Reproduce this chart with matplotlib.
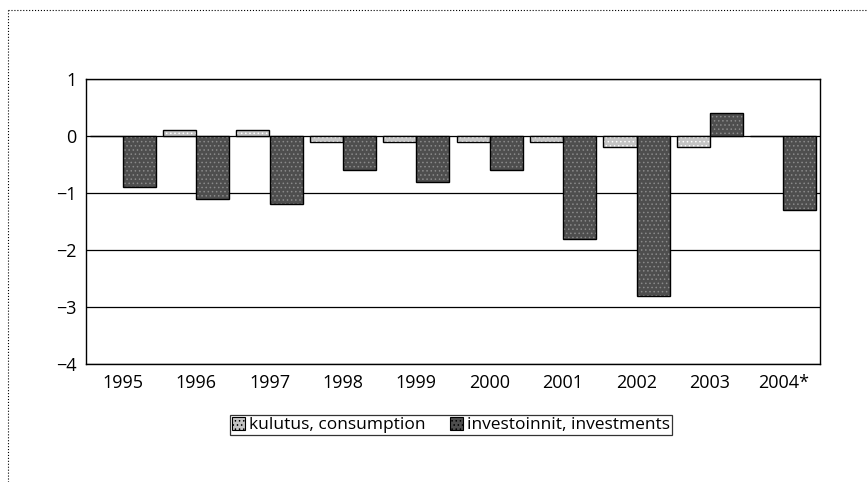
import matplotlib
matplotlib.use("Agg")
import matplotlib.pyplot as plt
import numpy as np
from matplotlib.lines import Line2D
from matplotlib.patches import Patch

years = ["1995", "1996", "1997", "1998", "1999", "2000", "2001", "2002", "2003", "2004*"]
consumption = [0.0, 0.1, 0.1, -0.1, -0.1, -0.1, -0.1, -0.2, -0.2, 0.0]
investments = [-0.9, -1.1, -1.2, -0.6, -0.8, -0.6, -1.8, -2.8, 0.4, -1.3]
labels = ["kulutus, consumption", "investoinnit, investments"]

plt.rcParams['font.family'] = ['Open Sans', 'DejaVu Sans']
plt.rcParams['hatch.linewidth'] = 0.6

fig = plt.figure(figsize=(8.68, 4.82), dpi=100)
ax = fig.add_axes([86/868, 1-364/482, (820-86)/868, (364-79)/482])

x = np.arange(len(years))
w = 0.45
c_col = "#c4c4c4"
i_col = "#4e4e4e"

# fills with dotted texture
ax.bar(x - w/2, consumption, w, color=c_col, hatch="....", edgecolor="white", linewidth=0, zorder=3)
ax.bar(x + w/2, investments, w, color=i_col, hatch="....", edgecolor="#8a8a8a", linewidth=0, zorder=3)
# outlines
ax.bar(x - w/2, consumption, w, facecolor="none", edgecolor="black", linewidth=1.0, zorder=4)
ax.bar(x + w/2, investments, w, facecolor="none", edgecolor="black", linewidth=1.0, zorder=4)

ax.set_xlim(-0.5, len(years) - 0.5)
ax.set_ylim(-4, 1)
ax.set_yticks([1, 0, -1, -2, -3, -4])
ax.set_yticklabels(["1", "0", "\u22121", "\u22122", "\u22123", "\u22124"])
ax.set_xticks(x)
ax.set_xticklabels(years)
ax.tick_params(axis="both", length=0, labelsize=13, colors="black")
ax.tick_params(axis="y", pad=7)
ax.tick_params(axis="x", pad=7)
ax.yaxis.grid(True, color="black", linewidth=0.9, zorder=1)
ax.set_axisbelow(True)
for s in ax.spines.values():
    s.set_linewidth(1.0)
    s.set_color("black")

handles = [Patch(facecolor=c_col, hatch="....", edgecolor="black", linewidth=0.8),
           Patch(facecolor=i_col, hatch="....", edgecolor="black", linewidth=0.8)]
leg = fig.legend(handles, labels, loc="center", bbox_to_anchor=(451/868, 1-425/482),
                 ncol=2, frameon=True, fancybox=False, fontsize=12.5,
                 handlelength=0.75, handleheight=0.75, handletextpad=0.25,
                 columnspacing=1.4, borderpad=0.1, borderaxespad=0)
leg.get_frame().set_edgecolor("black")
leg.get_frame().set_linewidth(0.9)

# outer dotted border (top and left)
fig.add_artist(Line2D([8/868, 1], [1-10/482, 1-10/482], transform=fig.transFigure,
                      color="black", linestyle=":", linewidth=0.8))
fig.add_artist(Line2D([8/868, 8/868], [0, 1-10/482], transform=fig.transFigure,
                      color="black", linestyle=":", linewidth=0.8))

fig.savefig("out.png", dpi=100)
